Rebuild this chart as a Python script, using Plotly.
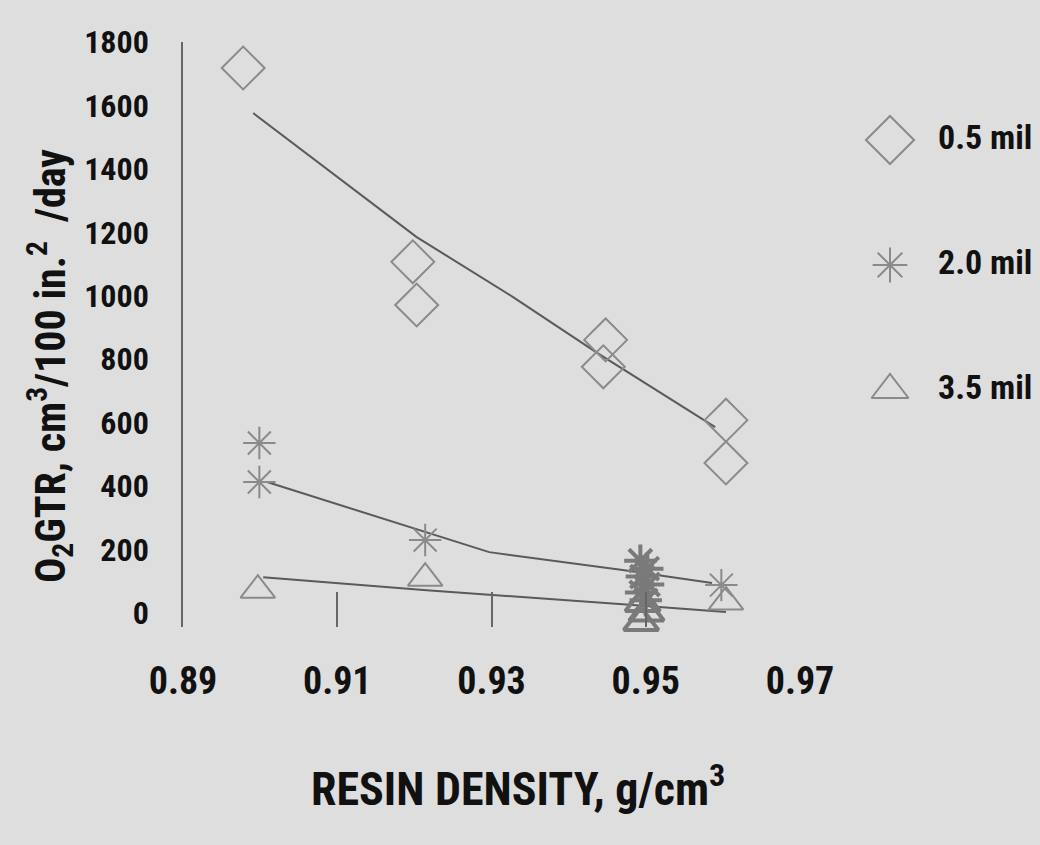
import plotly.graph_objects as go

# ---- data ----
x_05 = [0.8978, 0.9198, 0.9203, 0.9448, 0.9445, 0.9604, 0.9604]
y_05 = [1718, 1107, 971, 861, 776, 608, 473]
fit_x_05 = [0.8991, 0.9203, 0.9328, 0.9437, 0.9590]
fit_y_05 = [1576, 1185, 996, 820, 586]

x_20 = [0.8999, 0.8999, 0.9214, 0.9598]
y_20 = [536, 413, 230, 88]
fit_x_20 = [0.9009, 0.9216, 0.9262, 0.9297, 0.9470, 0.9586]
fit_y_20 = [413, 255, 221, 192, 136, 95]

x_35 = [0.8997, 0.9214, 0.9604]
y_35 = [72, 110, 35]
fit_x_35 = [0.9004, 0.9130, 0.9216, 0.9470, 0.9604]
fit_y_35 = [113, 88, 72, 28, 3]

# overprinted cluster at density 0.95
blob_x_20 = [0.9493, 0.9502, 0.9495, 0.9503, 0.9494, 0.9500]
blob_y_20 = [165, 140, 115, 90, 65, 40]
blob_x_35 = [0.9496, 0.9501, 0.9494, 0.9500, 0.9497]
blob_y_35 = [30, 0, -30, -55, -75]

series_names = ["0.5 mil", "2.0 mil", "3.5 mil"]
x_ticks = [0.89, 0.91, 0.93, 0.95, 0.97]
x_tick_text = ["0.89", "0.91", "0.93", "0.95", "0.97"]
y_ticks = [0, 200, 400, 600, 800, 1000, 1200, 1400, 1600, 1800]

# ---- styles ----
W, H = 1040, 845
BG = "#dedede"
MK = "#8a8a8a"
LN = "#5a5a5a"
TXT = "#111111"
FAM = "Liberation Sans Narrow, Roboto Condensed, Lato, sans-serif"
symbols = ["diamond-open", "asterisk-open", "triangle-up-open"]
msize = [33, 27, 30]
leg_size = [37, 29, 32]

fig = go.Figure()

def fit(x, y):
    fig.add_trace(go.Scatter(x=x, y=y, mode="lines", line=dict(color=LN, width=2),
                             showlegend=False, hoverinfo="skip"))

fit(fit_x_05, fit_y_05)
fit(fit_x_20, fit_y_20)
fit(fit_x_35, fit_y_35)

def pts(x, y, i, lw=2, col=MK):
    fig.add_trace(go.Scatter(x=x, y=y, mode="markers", showlegend=False, cliponaxis=False,
                             marker=dict(symbol=symbols[i], size=msize[i], color=col,
                                         line=dict(color=col, width=lw))))

pts(x_05, y_05, 0)
pts(x_20, y_20, 1)
pts(x_35, y_35, 2)
pts(blob_x_35, blob_y_35, 2, lw=4, col="#7a7a7a")
pts(blob_x_20, blob_y_20, 1, lw=4, col="#7a7a7a")

# legend drawn on its own small axes
for i, name in enumerate(series_names):
    fig.add_trace(go.Scatter(x=[0], y=[name], mode="markers", xaxis="x2", yaxis="y2",
                             showlegend=False, cliponaxis=False,
                             marker=dict(symbol=symbols[i], size=leg_size[i], color=MK,
                                         line=dict(color=MK, width=2))))
fig.add_trace(go.Scatter(x=[1] * 3, y=series_names, text=series_names, mode="text",
                         textposition="middle right", xaxis="x2", yaxis="y2",
                         showlegend=False, cliponaxis=False,
                         textfont=dict(family=FAM, size=34, color=TXT, weight=700)))

fig.update_layout(
    width=W, height=H,
    margin=dict(l=0, r=0, t=0, b=0, autoexpand=False),
    paper_bgcolor=BG, plot_bgcolor=BG,
    showlegend=False,
    xaxis=dict(domain=[183 / W, 800 / W], range=[0.89, 0.97], automargin=False,
               tickvals=x_ticks, ticktext=x_tick_text,
               ticks="inside", ticklen=35, tickwidth=1.5, tickcolor="#666",
               showline=False, showgrid=False, zeroline=False,
               ticklabelstandoff=28,
               tickfont=dict(family=FAM, size=38, color=TXT, weight=700)),
    yaxis=dict(domain=[1 - 627 / H, 1 - 42 / H], range=[-44, 1800], automargin=False,
               tickvals=y_ticks, ticks="", showline=True, linecolor="#666", linewidth=1.5,
               showgrid=False, zeroline=False, ticklabelstandoff=26,
               tickfont=dict(family=FAM, size=32, color=TXT, weight=700)),
    xaxis2=dict(domain=[860 / W, 1.0], range=[-0.625, 3.125], visible=False, automargin=False),
    yaxis2=dict(domain=[1 - 452.5 / H, 1 - 77.5 / H], range=[2.5, -0.5], visible=False,
                automargin=False,
                type="category", categoryorder="array", categoryarray=series_names),
    annotations=[
        dict(text="RESIN DENSITY, g/cm<sup>3</sup>", xref="paper", yref="paper",
             x=518 / W, y=1 - 786 / H, showarrow=False, xanchor="center", yanchor="middle",
             font=dict(family=FAM, size=46, color=TXT, weight=700)),
        dict(text="O<sub>2</sub>GTR, cm<sup>3</sup>/100 in.<sup>2</sup>  /day",
             xref="paper", yref="paper", textangle=-90,
             x=50 / W, y=1 - 366 / H, showarrow=False, xanchor="center", yanchor="middle",
             font=dict(family=FAM, size=42, color=TXT, weight=700)),
    ],
)

fig.write_html("out.html")
